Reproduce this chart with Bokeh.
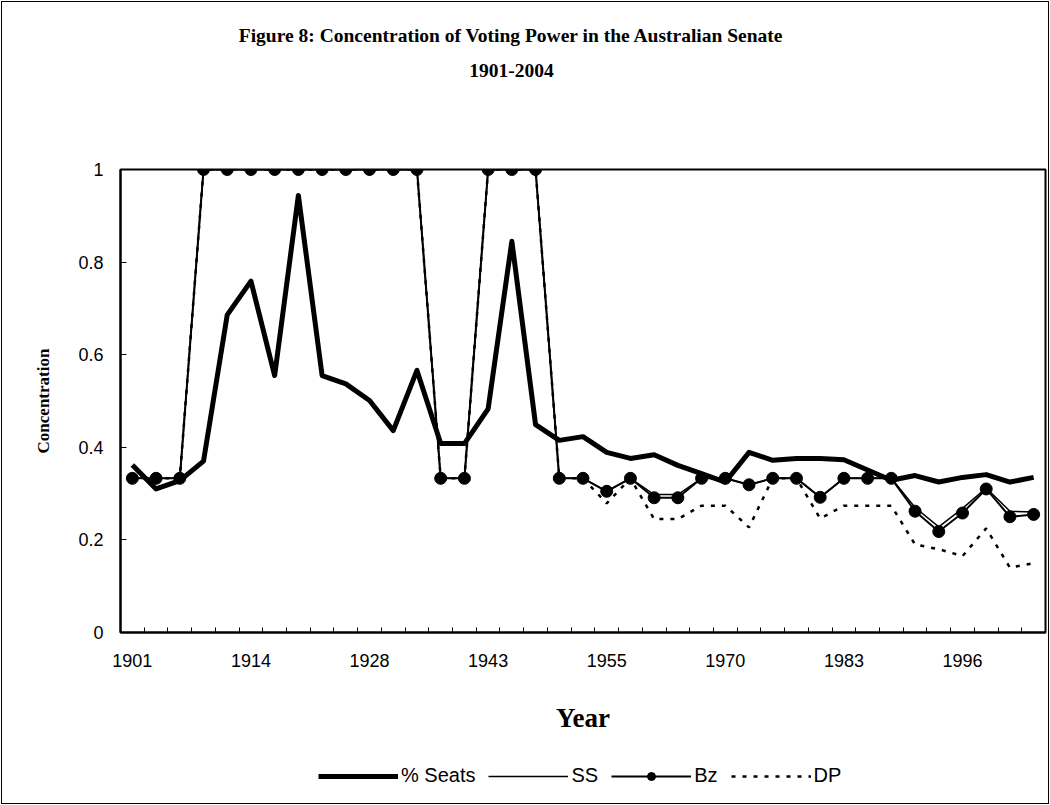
from bokeh.plotting import figure
from bokeh.layouts import column
from bokeh.models import (Range1d, FixedTicker, CustomJSTickFormatter, Legend, LegendItem,
                          Label, ColumnDataSource)
from bokeh.embed import file_html
from bokeh.resources import INLINE

years = [1901, 1903, 1906, 1910, 1913, 1914, 1917, 1919, 1922, 1925, 1928, 1931, 1934,
         1937, 1940, 1943, 1946, 1949, 1951, 1953, 1955, 1958, 1961, 1964, 1967, 1970,
         1974, 1975, 1977, 1980, 1983, 1984, 1987, 1990, 1993, 1996, 1998, 2001, 2004]
labelled_years = [1901, 1914, 1928, 1943, 1955, 1970, 1983, 1996]

seats = [0.362, 0.310, 0.328, 0.370, 0.686, 0.759, 0.555, 0.944, 0.555, 0.537, 0.501,
         0.436, 0.566, 0.408, 0.408, 0.483, 0.845, 0.449, 0.415, 0.423, 0.389, 0.376,
         0.384, 0.361, 0.343, 0.325, 0.389, 0.372, 0.376, 0.376, 0.373, 0.351, 0.329,
         0.339, 0.325, 0.335, 0.341, 0.325, 0.335]
bz = [0.333, 0.333, 0.333, 1, 1, 1, 1, 1, 1, 1, 1, 1, 1, 0.333, 0.333, 1, 1, 1,
      0.333, 0.333, 0.305, 0.333, 0.291, 0.291, 0.333, 0.333, 0.319, 0.333, 0.333,
      0.292, 0.333, 0.333, 0.333, 0.262, 0.218, 0.258, 0.310, 0.250, 0.255]
ss = [0.333, 0.333, 0.333, 1, 1, 1, 1, 1, 1, 1, 1, 1, 1, 0.333, 0.333, 1, 1, 1,
      0.333, 0.333, 0.305, 0.333, 0.298, 0.298, 0.333, 0.333, 0.319, 0.333, 0.333,
      0.292, 0.333, 0.333, 0.333, 0.270, 0.228, 0.268, 0.312, 0.262, 0.260]
dp = [0.333, 0.333, 0.333, 1, 1, 1, 1, 1, 1, 1, 1, 1, 1, 0.333, 0.333, 1, 1, 1,
      0.333, 0.333, 0.279, 0.333, 0.245, 0.245, 0.274, 0.274, 0.227, 0.333, 0.333,
      0.246, 0.274, 0.274, 0.274, 0.190, 0.180, 0.165, 0.225, 0.140, 0.150]

title_lines = ["Figure 8: Concentration of Voting Power in the Australian Senate", "1901-2004"]
series_names = ["% Seats", "SS", "Bz", "DP"]

W = 1050
BL, BR = 120, 5
FW = W - BL - BR
H_TOP, H_MAIN, H_LEG = 157, 588, 60
NAN = float("nan")


def strip(height):
    f = figure(width=W, height=height, output_backend="svg", toolbar_location=None,
               x_range=Range1d(0, FW), y_range=Range1d(0, height),
               x_axis_location=None, y_axis_location=None,
               min_border_left=BL, min_border_right=BR, min_border_top=0, min_border_bottom=0)
    f.outline_line_color = None
    f.xgrid.visible = False
    f.ygrid.visible = False
    f.background_fill_alpha = 0
    f.border_fill_alpha = 0
    return f


# ---------- title strip ----------
ft = strip(H_TOP)
for txt, yy in zip(title_lines, [H_TOP - 35, H_TOP - 70]):
    ft.add_layout(Label(x=511 - BL, y=yy, text=txt, text_align="center", text_baseline="middle",
                        text_font="Liberation Serif", text_font_style="bold",
                        text_font_size="19.5px", text_color="black"))

# ---------- main chart ----------
idx = list(range(len(years)))
src = ColumnDataSource(dict(x=idx, seats=seats, ss=ss, bz=bz, dp=dp))

p = figure(width=W, height=H_MAIN, output_backend="svg", toolbar_location=None,
           x_range=Range1d(-0.5, len(years) - 0.5), y_range=Range1d(0, 1),
           min_border_left=BL, min_border_right=BR, min_border_top=12, min_border_bottom=113)
p.border_fill_alpha = 0
p.background_fill_color = "white"
p.outline_line_color = "black"
p.outline_line_width = 2
p.outline_line_alpha = 1
p.xgrid.visible = False
p.ygrid.visible = False

xa = p.xaxis[0]
label_idx = [years.index(y) for y in labelled_years]
xa.ticker = FixedTicker(ticks=label_idx, minor_ticks=[i - 0.5 for i in range(len(years) + 1)])
xa.major_label_overrides = {i: str(years[i]) for i in label_idx}
xa.major_tick_in = 0
xa.major_tick_out = 0
xa.minor_tick_in = 5
xa.minor_tick_out = 0
xa.minor_tick_line_color = "black"
xa.axis_line_color = "black"
xa.axis_line_width = 2
xa.major_label_text_font = "Liberation Sans"
xa.major_label_text_font_size = "18px"
xa.major_label_text_color = "black"
xa.major_label_standoff = 21
xa.axis_label = "Year"
xa.axis_label_text_font = "Liberation Serif"
xa.axis_label_text_font_style = "bold"
xa.axis_label_text_font_size = "27px"
xa.axis_label_text_color = "black"
xa.axis_label_standoff = 33

ya = p.yaxis[0]
ya.ticker = FixedTicker(ticks=[0, 0.2, 0.4, 0.6, 0.8, 1], minor_ticks=[])
ya.formatter = CustomJSTickFormatter(code="return Number(tick.toFixed(1)).toString();")
ya.major_tick_in = 6
ya.major_tick_out = 0
ya.major_tick_line_color = "black"
ya.axis_line_color = "black"
ya.axis_line_width = 2
ya.major_label_text_font = "Liberation Sans"
ya.major_label_text_font_size = "18px"
ya.major_label_text_color = "black"
ya.major_label_standoff = 17
ya.axis_label = "Concentration"
ya.axis_label_text_font = "Liberation Serif"
ya.axis_label_text_font_style = "bold"
ya.axis_label_text_font_size = "17px"
ya.axis_label_text_color = "black"
ya.axis_label_standoff = 22

SEATS_STYLE = dict(line_color="black", line_width=5, line_join="round")
SS_STYLE = dict(line_color="black", line_width=1.5)
BZ_STYLE = dict(line_color="black", line_width=2)
BZM_STYLE = dict(marker="circle", size=12, fill_color="black", line_color="black")
DP_STYLE = dict(line_color="black", line_width=2.5, line_dash="4 7")

p.line("x", "seats", source=src, **SEATS_STYLE)
p.line("x", "ss", source=src, **SS_STYLE)
p.line("x", "bz", source=src, **BZ_STYLE)
p.scatter("x", "bz", source=src, **BZM_STYLE)
p.line("x", "dp", source=src, **DP_STYLE)

# ---------- legend strip (legend keys only, no data drawn) ----------
fl = strip(H_LEG)
l_seats = fl.line(x=[NAN], y=[NAN], **SEATS_STYLE)
l_ss = fl.line(x=[NAN], y=[NAN], **SS_STYLE)
l_bz = fl.line(x=[NAN], y=[NAN], **BZ_STYLE)
l_bzm = fl.scatter(x=[NAN], y=[NAN], **BZM_STYLE)
l_dp = fl.line(x=[NAN], y=[NAN], **DP_STYLE)
legend = Legend(items=[LegendItem(label=series_names[0], renderers=[l_seats]),
                       LegendItem(label=series_names[1], renderers=[l_ss]),
                       LegendItem(label=series_names[2], renderers=[l_bz, l_bzm]),
                       LegendItem(label=series_names[3], renderers=[l_dp])],
                orientation="horizontal", location=(318 - BL, 18))
legend.glyph_width = 80
legend.glyph_height = 20
legend.label_standoff = 3
legend.spacing = 13
legend.padding = 0
legend.margin = 0
legend.border_line_alpha = 0
legend.background_fill_alpha = 0
legend.label_text_font = "Liberation Sans"
legend.label_text_font_size = "20px"
legend.label_text_color = "black"
legend.label_text_baseline = "middle"
fl.add_layout(legend)

layout = column(ft, p, fl, spacing=0)
layout.styles = {"outline": "1px solid black", "outline-offset": "-2px",
                 "background-color": "white"}

open("out.html", "w").write(file_html(layout, INLINE))
